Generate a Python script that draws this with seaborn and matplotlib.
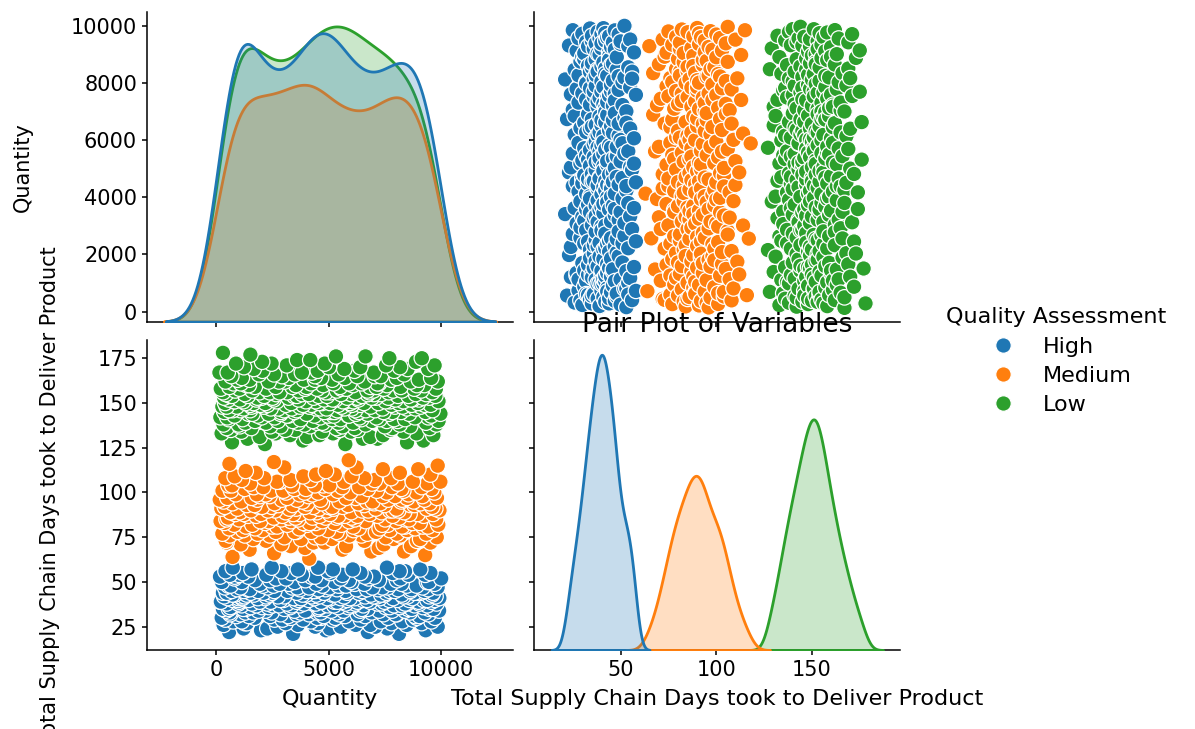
import numpy as np
import pandas as pd
import matplotlib
matplotlib.use("Agg")
import matplotlib.pyplot as plt
import seaborn as sns

# ----------------------------------------------------------
# data (days given as value / count)
# ----------------------------------------------------------

QTY = "Quantity"
DAYS = "Total Supply Chain Days took to Deliver Product"
HUE = "Quality Assessment"
QUALITY_ORDER = ["High", "Medium", "Low"]

high_day_values = [21, 22, 23, 24, 25, 26, 27, 28, 29, 30, 31, 32, 33, 34, 35, 36, 37, 38, 39,
                   40, 41, 42, 43, 44, 45, 46, 47, 48, 49, 50, 51, 52, 53, 54, 55, 56, 57, 58]
high_day_counts = [2, 2, 3, 4, 5, 5, 6, 7, 7, 9, 9, 11, 11, 13, 13, 14, 15, 16, 16,
                   17, 17, 16, 15, 14, 14, 13, 12, 10, 9, 7, 7, 7, 7, 7, 6, 5, 5, 4]

medium_day_values = [63, 64, 65, 66, 67, 68, 69, 70, 71, 72, 73, 74, 75, 76, 77, 78, 79, 80, 81,
                     82, 83, 84, 85, 86, 87, 88, 89, 90, 91, 92, 93, 94, 95, 96, 97, 98, 99,
                     100, 101, 102, 103, 104, 105, 106, 107, 108, 109, 110, 111, 112, 113,
                     114, 115, 116, 117, 118]
medium_day_counts = [1, 1, 1, 1, 2, 2, 2, 3, 3, 4, 4, 5, 5, 6, 6, 7, 7, 7, 8,
                     8, 8, 8, 9, 9, 10, 10, 9, 10, 10, 10, 9, 9, 8, 8, 7, 7, 7,
                     7, 7, 7, 6, 6, 5, 5, 4, 4, 3, 3, 2, 2, 2,
                     2, 1, 1, 1, 1]

low_day_values = [127, 128, 129, 130, 131, 132, 133, 134, 135, 136, 137, 138, 139, 140, 141,
                  142, 143, 144, 145, 146, 147, 148, 149, 150, 151, 152, 153, 154, 155, 156,
                  157, 158, 159, 160, 161, 162, 163, 164, 165, 166, 167, 168, 169, 170, 171,
                  172, 173, 174, 175, 176, 177, 178]
low_day_counts = [2, 2, 2, 3, 3, 4, 4, 5, 6, 6, 7, 7, 8, 8, 9,
                  9, 10, 10, 11, 11, 12, 12, 13, 13, 13, 13, 13, 12, 12, 11,
                  10, 10, 9, 8, 8, 7, 7, 6, 6, 5, 5, 4, 4, 4, 3,
                  3, 2, 2, 2, 2, 1, 1]

high_quantity = [
    3412, 8120, 562, 6733, 1981, 9305, 4870, 2264, 7598, 5046,
    1207, 5530, 9842, 2716, 4391, 7065, 318, 8457, 6189, 3624,
    6842, 1264, 4517, 9120, 1356, 7789, 3081, 5902, 8264, 745,
    9561, 4203, 7312, 1128, 8745, 2580, 6420, 391, 5177, 3856,
    2941, 7630, 5288, 8916, 1702, 4655, 233, 4484, 3309, 9718,
    5714, 1445, 8833, 3190, 6611, 9034, 2387, 4772, 880, 7421,
    8021, 3578, 1063, 6280, 9437, 5461, 4119, 7977, 2852, 614,
    4481, 9276, 2455, 4639, 587, 3738, 6904, 1289, 8602, 5319,
    1634, 6395, 9903, 4036, 2178, 8388, 5655, 3467, 7233, 429,
    7809, 5102, 3955, 1871, 8533, 6727, 286, 9460, 1321, 4548,
    3025, 8691, 6466, 555, 4824, 1190, 9649, 7523, 5860, 2034,
    9187, 2327, 1524, 5408, 7702, 3283, 8150, 4619, 672, 4561,
    612, 4960, 7896, 3701, 1118, 9379, 2506, 6085, 8817, 5231,
    5951, 1773, 3349, 8268, 6533, 2790, 455, 9789, 4307, 7166,
    2268, 6174, 8469, 4418, 9025, 1582, 7350, 3892, 5748, 978,
    8396, 3140, 5592, 5247, 2412, 6829, 4686, 1009, 9554, 162,
    4653, 7475, 197, 1925, 5374, 8989, 3557, 6270, 2980, 9212,
    6518, 9710, 2839, 4105, 730, 1316, 8579, 5816, 965, 7694,
    1436, 8047, 6701, 9381, 3662, 5087, 2159, 7856, 4927, 503,
    7267, 4356, 984, 1148, 6147, 8713, 1839, 5523, 9913, 3444,
    3769, 5929, 7143, 8505, 1067, 2216, 9471, 343, 4242, 6614,
    9744, 1247, 4574, 6981, 8311, 3015, 5675, 2733, 7488, 820,
    2361, 6873, 8244, 1665, 4439, 9588, 712, 5144, 3990, 7326,
    5266, 3828, 1352, 9078, 7559, 2474, 6338, 4791, 8935, 288,
    8806, 2097, 5813, 3573, 9633, 467, 1523, 7708, 4398, 4302,
    4015, 7927, 3160, 5739, 1219, 8621, 9257, 2572, 680, 6486,
    1853, 9420, 6245, 4864, 1395, 7199, 5361, 3706, 8079, 916,
    6699, 4547, 8672, 1483, 5025, 3372, 9837, 2281, 7614, 379,
    3596, 1068, 7382, 9169, 4125, 6938, 5496, 8458, 2066, 533,
    5430, 5764, 2540, 632, 8899, 4712, 1937, 3216, 9698, 6153,
    2805, 8232, 4444, 7755, 6577, 1131, 9365, 5257, 3485, 244,
    9451, 6006, 1719, 3957, 5888, 8027, 2391, 4676, 7223, 801,
    5527, 2650, 9995, 8186, 3098, 6771, 4229, 1417, 812, 157,
    4390, 7006, 6603, 2218, 9286, 1006, 8544, 5610, 3798, 598,
    1178, 3330, 5059, 6404, 7840, 9515, 2887, 4956, 8391, 403,
    8147, 9066, 3623, 5178, 1562, 6062, 4523, 727, 2460, 7581,
]

medium_quantity = [
    4127, 716, 9284, 2563, 6890, 8341, 1475, 5602, 3938, 7219,
    8653, 3301, 5765, 1082, 7446, 2890, 9517, 4311, 448, 4806,
    2209, 6577, 412, 8915, 3764, 5138, 7881, 1640, 9060, 4393,
    7534, 9799, 4658, 3021, 1263, 6449, 593, 8172, 5907, 2376,
    5481, 1836, 8028, 6712, 9335, 263, 2640, 4221, 7097, 3563,
    947, 5339, 3479, 7715, 2051, 9612, 4965, 6103, 8487, 1185,
    3692, 8836, 6327, 4534, 567, 1721, 7258, 9189, 2488, 8390,
    6086, 2702, 1318, 9409, 8258, 4047, 3150, 782, 5560, 7623,
    1593, 7371, 9868, 5247, 4411, 3865, 8719, 2175, 4150, 356,
    9041, 4712, 2327, 183, 7994, 6634, 5896, 3318, 1947, 8405,
    2887, 6155, 7502, 3640, 1009, 8565, 447, 9771, 5336, 4273,
    8133, 513, 4851, 6017, 3227, 2544, 3521, 7169, 1412, 5709,
    4596, 9213, 1764, 2935, 5418, 7837, 6268, 834, 3703, 8946,
    6821, 3412, 8590, 1225, 9630, 5054, 1982, 4459, 7341, 672,
    1047, 5997, 3076, 8349, 4166, 622, 7722, 9920, 2611, 6488,
    7851, 2295, 6749, 4901, 8092, 1538, 3545, 5212, 217, 9357,
    3250, 8008, 931, 7090, 4562, 9734, 4304, 2457, 1896, 5622,
    9596, 4985, 5149, 2028, 373, 3937, 8627, 6566, 7484, 1350,
    5863, 1693, 8806, 3391, 2754, 7016, 9075, 4688, 6315, 706,
    2582, 7294, 4036, 9482, 6699, 311, 1102, 8214, 5475, 3826,
    8772, 6942, 2911, 8257, 3579, 4620, 7635, 1819, 9256, 146,
    488, 3148, 6197, 8481, 1571, 9808, 5772, 2363, 4094, 7408,
    6460, 9158, 7945, 1936, 4267, 2202, 858, 3705, 8545, 5192,
    1799, 4520, 9691, 7577, 5946, 8897, 3090, 3918, 2437, 269,
    7130, 2976, 5401, 647, 8311, 3469, 4844, 9567, 1258, 6740,
    3981, 8224, 1660, 6351, 9129, 5595, 2081, 7811, 4742, 531,
    5025, 691, 3363, 4379, 7269, 1493, 6914, 8062, 9383, 2817,
    9959, 5678, 8736, 2695, 4181, 7046, 1134, 3289, 6574, 395,
    2120, 7770, 6008, 3864, 812, 9512, 5262, 4430, 8158, 1746,
    4869, 1301, 7402, 8975, 3013, 6229, 9841, 577, 2554, 5883,
]

low_quantity = [
    5731, 2154, 8477, 693, 9206, 3848, 6512, 1387, 7160, 4025,
    1924, 6843, 3270, 9648, 4577, 7409, 228, 5186, 8901, 2631,
    8319, 4702, 1108, 5985, 2477, 5472, 7738, 3501, 645, 6296,
    3062, 9483, 6157, 7821, 1550, 452, 5334, 8618, 2859, 4169,
    7487, 1041, 5609, 2387, 8156, 6632, 4839, 9780, 3913, 311,
    986, 5427, 9317, 4473, 3619, 2202, 4715, 6085, 1281, 7574,
    4288, 8056, 2733, 6935, 9880, 1716, 3390, 547, 7253, 5162,
    6446, 3745, 7900, 1159, 5523, 8392, 2015, 4618, 9423, 174,
    2590, 7112, 480, 8827, 6361, 4977, 9554, 1833, 3204, 5868,
    5217, 5891, 4356, 3127, 804, 7669, 1432, 6204, 2845, 8571,
    1603, 4015, 6722, 9962, 2326, 5087, 8209, 351, 7825, 3464,
    6322, 2868, 5248, 7433, 4795, 9301, 6641, 1075, 3571, 722,
    5381, 9611, 3006, 1499, 7047, 6170, 562, 2744, 8468, 4442,
    3347, 6019, 8853, 5702, 1211, 2411, 4628, 7385, 4901, 263,
    7936, 1560, 4131, 8278, 3718, 5563, 2097, 9092, 6855, 906,
    454, 7790, 2269, 6404, 8686, 4233, 1967, 5413, 3853, 9268,
    6027, 3096, 9528, 1512, 5945, 8113, 7201, 4686, 1646, 384,
    2176, 8961, 1301, 4562, 6560, 3326, 5049, 9877, 770, 7712,
    5744, 4409, 7522, 808, 2683, 1189, 8314, 3980, 6093, 5629,
    4798, 6318, 532, 3654, 9008, 7963, 2542, 5285, 1770, 8725,
    1045, 5171, 8651, 7091, 4320, 2024, 6906, 9460, 339, 3209,
    7648, 2495, 6260, 9185, 1823, 5818, 3452, 8075, 4551, 609,
    3575, 9737, 4920, 2119, 8538, 690, 1396, 6477, 7308, 5992,
    8870, 1262, 3810, 5540, 7001, 9333, 4109, 2659, 6729, 418,
    5064, 6805, 7664, 1916, 295, 3142, 6183, 4866, 9601, 2370,
    2806, 6981, 9112, 4693, 5356, 7856, 835, 1593, 3664, 8247,
    6715, 3947, 1027, 8799, 2211, 4482, 5561, 5773, 7449, 192,
    9762, 578, 5495, 3380, 6841, 8190, 2639, 7117, 1707, 4013,
    1337, 4746, 1444, 7586, 9247, 6066, 3535, 8912, 5211, 763,
    4206, 7232, 7164, 6449, 1089, 5903, 406, 3039, 9846, 2783,
    8639, 2324, 6592, 9004, 3892, 1474, 7779, 5148, 4386, 937,
    3219, 5707, 4654, 1128, 8024, 9551, 2917, 661, 6266, 7039,
    7310, 4380, 1893, 5436, 2560, 3493, 8343, 6998, 4248, 132,
    501, 3801, 7906, 2044, 6135, 4507, 9419, 1658, 5688, 8502,
    6397, 1221, 5001, 8166, 9704, 7542, 3126, 4815, 2453, 872,
    2033, 8874, 3587, 4173, 7691, 9135, 5316, 6629, 1509, 288,
]


def build_frame():
    groups = [
        ("High", high_day_values, high_day_counts, high_quantity),
        ("Medium", medium_day_values, medium_day_counts, medium_quantity),
        ("Low", low_day_values, low_day_counts, low_quantity),
    ]
    frames = []
    for label, day_vals, day_counts, qty in groups:
        days = np.repeat(day_vals, day_counts)
        n = min(len(days), len(qty))
        if len(days) != len(qty):
            print(f"{label}: {len(days)} days vs {len(qty)} quantities")
        frames.append(pd.DataFrame({QTY: qty[:n], DAYS: days[:n], HUE: label}))
    return pd.concat(frames, ignore_index=True)


# ----------------------------------------------------------
# plot
# ----------------------------------------------------------

plt.rcParams["font.size"] = 15
plt.rcParams["axes.linewidth"] = 1.1
plt.rcParams["xtick.major.width"] = 1.1
plt.rcParams["ytick.major.width"] = 1.1

df = build_frame()

g = sns.pairplot(df, hue=HUE, hue_order=QUALITY_ORDER, height=3.6,
                 plot_kws={"s": 125},
                 diag_kws={"bw_adjust": 0.9, "linewidth": 2})

fig = g.figure
fig.set_size_inches(11.95, 7.29)
fig.subplots_adjust(left=0.1228, right=0.7531, top=0.984, bottom=0.1084,
                    wspace=0.059, hspace=0.059)

# limits and ticks as in the reference
g.axes[0, 0].set_xlim(-3100, 13170)
g.axes[0, 1].set_xlim(4.8, 196)
g.axes[0, 0].set_ylim(-350, 10490)
g.axes[1, 0].set_ylim(12, 185.2)
g.axes[1, 0].set_xticks([0, 5000, 10000])
g.axes[1, 1].set_xticks([50, 100, 150])
g.axes[0, 0].set_yticks([0, 2000, 4000, 6000, 8000, 10000])
g.axes[1, 0].set_yticks([25, 50, 75, 100, 125, 150, 175])

for ax in g.axes[:, 0]:
    ax.yaxis.labelpad = 27
for ax in g.axes[1, :]:
    ax.xaxis.labelpad = 7
g.axes[1, 1].set_xlabel(DAYS, fontsize=16)
g.axes[1, 0].set_xlabel(QTY, fontsize=16)

sns.move_legend(g, "upper center", bbox_to_anchor=(0.884, 0.606),
                frameon=False, labelspacing=0.42, fontsize=16,
                title_fontsize=16)

g.diag_axes[1].set_title("Pair Plot of Variables", fontsize=19)

fig.savefig("out.png", dpi=100)
